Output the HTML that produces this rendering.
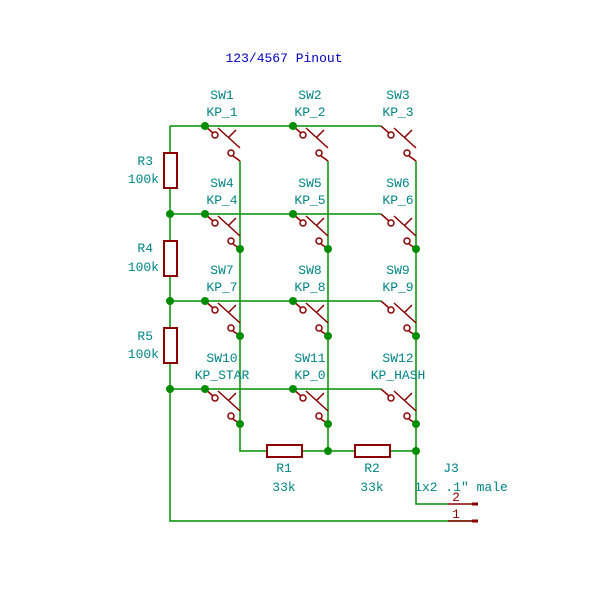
<!DOCTYPE html>
<html><head><style>body{margin:0;background:#fff}</style></head><body>
<svg width="600" height="600" xmlns="http://www.w3.org/2000/svg" font-family="Liberation Mono, monospace" font-size="13">
<rect width="600" height="600" fill="#fff"/>
<text x="284" y="62" fill="#0000c0" text-anchor="middle">123/4567 Pinout</text>
<g stroke="#009000" stroke-width="1.5" fill="none">
<path d="M170 126V521H478"/>
<path d="M170 126H381M170 214H381M170 301H381M170 389H381"/>
<path d="M240 161V451H266M302 451H354M390 451H416"/>
<path d="M328 161V451M416 161V504H448"/>
</g>
<g fill="none" stroke="#8b0000" stroke-width="1.5">
<g id="sw">
<path d="M205 126L213 133"/>
<circle cx="215" cy="135" r="3" fill="#fff"/>
<circle cx="231" cy="153" r="3" fill="#fff"/>
<path d="M218 128L240 148M236 130L228 138M233 156L240 161"/>
</g>
<use href="#sw" x="88"/><use href="#sw" x="176"/>
<use href="#sw" y="88"/><use href="#sw" x="88" y="88"/><use href="#sw" x="176" y="88"/>
<use href="#sw" y="175"/><use href="#sw" x="88" y="175"/><use href="#sw" x="176" y="175"/>
<use href="#sw" y="263"/><use href="#sw" x="88" y="263"/><use href="#sw" x="176" y="263"/>
<rect x="164" y="153" width="13" height="35" fill="#fff" stroke-width="2"/>
<rect x="164" y="241" width="13" height="35" fill="#fff" stroke-width="2"/>
<rect x="164" y="328" width="13" height="35" fill="#fff" stroke-width="2"/>
<rect x="267" y="445" width="35" height="12" fill="#fff" stroke-width="2"/>
<rect x="355" y="445" width="35" height="12" fill="#fff" stroke-width="2"/>
<path d="M448 504H478M448 521H478"/>
<path d="M472 504H478M472 521H478" stroke-width="3"/>
</g>
<g fill="#008c00">
<circle cx="205" cy="126" r="4"/><circle cx="293" cy="126" r="4"/>
<circle cx="170" cy="214" r="4"/><circle cx="205" cy="214" r="4"/><circle cx="293" cy="214" r="4"/>
<circle cx="170" cy="301" r="4"/><circle cx="205" cy="301" r="4"/><circle cx="293" cy="301" r="4"/>
<circle cx="170" cy="389" r="4"/><circle cx="205" cy="389" r="4"/><circle cx="293" cy="389" r="4"/>
<circle cx="240" cy="249" r="4"/><circle cx="328" cy="249" r="4"/><circle cx="416" cy="249" r="4"/>
<circle cx="240" cy="336" r="4"/><circle cx="328" cy="336" r="4"/><circle cx="416" cy="336" r="4"/>
<circle cx="240" cy="424" r="4"/><circle cx="328" cy="424" r="4"/><circle cx="416" cy="424" r="4"/>
<circle cx="328" cy="451" r="4"/><circle cx="416" cy="451" r="4"/>
</g>
<g fill="#008484" text-anchor="middle">
<text x="222" y="99">SW1</text><text x="222" y="116">KP_1</text>
<text x="310" y="99">SW2</text><text x="310" y="116">KP_2</text>
<text x="398" y="99">SW3</text><text x="398" y="116">KP_3</text>
<text x="222" y="187">SW4</text><text x="222" y="204">KP_4</text>
<text x="310" y="187">SW5</text><text x="310" y="204">KP_5</text>
<text x="398" y="187">SW6</text><text x="398" y="204">KP_6</text>
<text x="222" y="274">SW7</text><text x="222" y="291">KP_7</text>
<text x="310" y="274">SW8</text><text x="310" y="291">KP_8</text>
<text x="398" y="274">SW9</text><text x="398" y="291">KP_9</text>
<text x="222" y="362">SW10</text><text x="222" y="379">KP_STAR</text>
<text x="310" y="362">SW11</text><text x="310" y="379">KP_0</text>
<text x="398" y="362">SW12</text><text x="398" y="379">KP_HASH</text>
<text x="284" y="472">R1</text><text x="284" y="491">33k</text>
<text x="372" y="472">R2</text><text x="372" y="491">33k</text>
<text x="451" y="472">J3</text><text x="461" y="491">1x2 .1" male</text>
</g>
<g fill="#008484" text-anchor="end">
<text x="153" y="165">R3</text><text x="159" y="183">100k</text>
<text x="153" y="252">R4</text><text x="159" y="271">100k</text>
<text x="153" y="340">R5</text><text x="159" y="358">100k</text>
</g>
<text x="456" y="501" fill="#8b0000" text-anchor="middle">2</text>
<text x="456" y="518" fill="#8b0000" text-anchor="middle">1</text>
</svg>
</body></html>
